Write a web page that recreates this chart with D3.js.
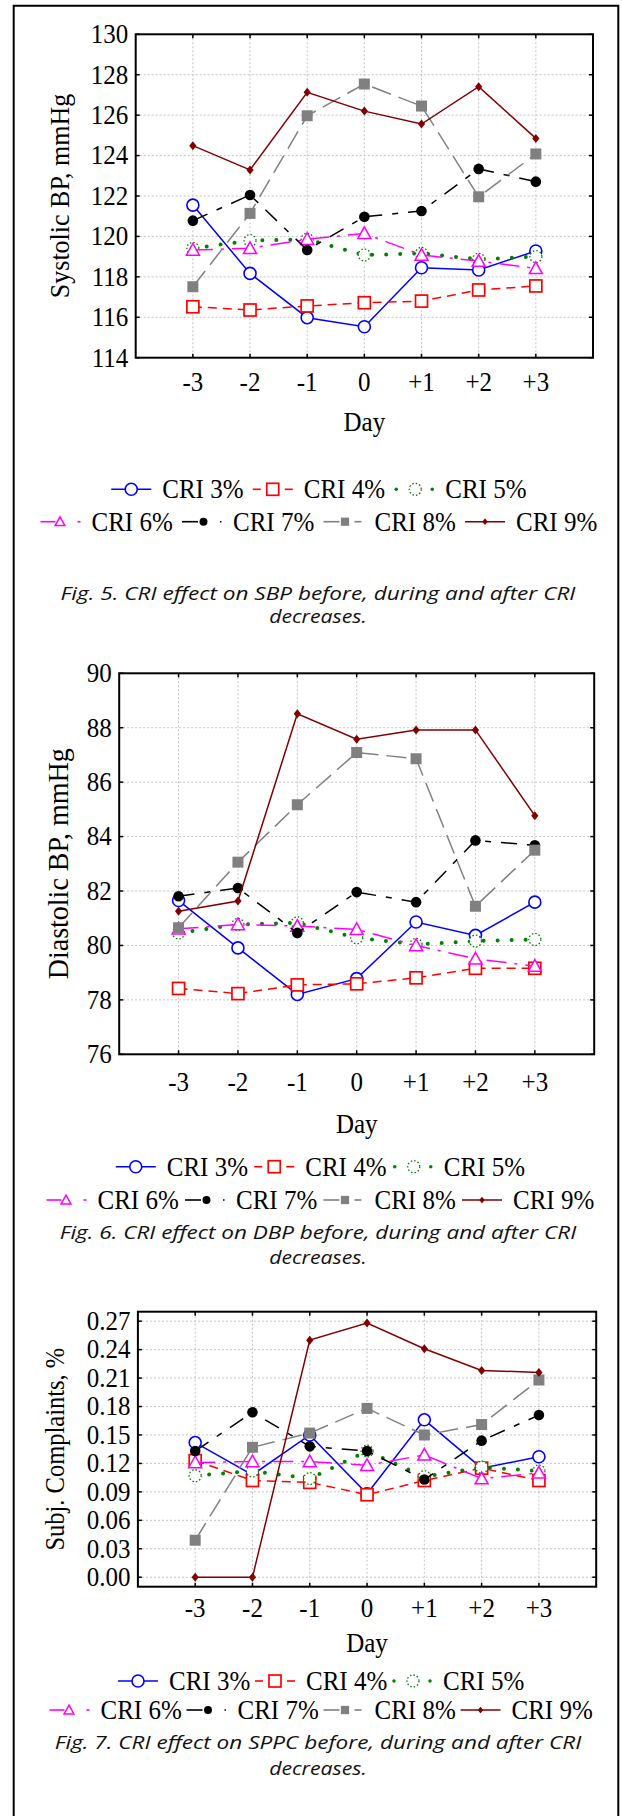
<!DOCTYPE html>
<html lang="en">
<head>
<meta charset="utf-8">
<title>CRI effect on SBP, DBP and SPPC</title>
<script src="https://d3js.org/d3.v7.min.js"></script>
<style>
body { margin: 0; background: #fff; }
svg { display: block; }
.grid line { stroke: #c4c4c4; stroke-dasharray: 2,2; stroke-width: 1; }
.frame { fill: none; stroke: #000; stroke-width: 2; }
</style>
</head>
<body>
<script>
// days around the CRI decrease
var days = [-3, -2, -1, 0, 1, 2, 3];
var dayLabels = ["-3", "-2", "-1", "0", "+1", "+2", "+3"];
var seriesNames = ["CRI 3%", "CRI 4%", "CRI 5%", "CRI 6%", "CRI 7%", "CRI 8%", "CRI 9%"];

// Fig. 5 - systolic BP, one row per series (CRI 3% .. CRI 9%)
var sbpValues = [
	[121.55, 118.17, 115.98, 115.53, 118.45, 118.34, 119.28],
	[116.52, 116.36, 116.56, 116.72, 116.80, 117.35, 117.55],
	[119.41, 119.79, 119.86, 119.08, 119.16, 118.87, 119.00],
	[119.33, 119.41, 119.86, 120.15, 119.08, 118.78, 118.42],
	[120.78, 122.05, 119.33, 120.97, 121.26, 123.34, 122.71],
	[117.51, 121.14, 125.97, 127.54, 126.45, 121.96, 124.08],
	[124.49, 123.29, 127.13, 126.20, 125.56, 127.41, 124.85]
];
var sbpTicks = [114, 116, 118, 120, 122, 124, 126, 128, 130];

// Fig. 6 - diastolic BP
var dbpValues = [
	[81.65, 79.91, 78.20, 78.78, 80.86, 80.37, 81.59],
	[78.42, 78.23, 78.55, 78.59, 78.81, 79.16, 79.16],
	[80.46, 80.77, 80.83, 80.28, 80.04, 80.16, 80.22],
	[80.61, 80.77, 80.71, 80.59, 80.00, 79.51, 79.24],
	[81.81, 82.11, 80.46, 81.96, 81.59, 83.86, 83.68],
	[80.65, 83.06, 85.17, 87.09, 86.86, 81.44, 83.50],
	[81.26, 81.63, 88.51, 87.58, 87.92, 87.92, 84.77]
];
var dbpTicks = [76, 78, 80, 82, 84, 86, 88, 90];

// Fig. 7 - subjective complaints
var sppcValues = [
	[0.142, 0.108, 0.150, 0.088, 0.166, 0.115, 0.127],
	[0.123, 0.102, 0.100, 0.087, 0.102, 0.115, 0.102],
	[0.107, 0.112, 0.104, 0.133, 0.106, 0.116, 0.112],
	[0.121, 0.122, 0.122, 0.118, 0.129, 0.104, 0.110],
	[0.133, 0.174, 0.138, 0.133, 0.103, 0.144, 0.171],
	[0.039, 0.137, 0.152, 0.178, 0.150, 0.161, 0.208],
	[0.000, 0.000, 0.250, 0.268, 0.241, 0.218, 0.216]
];
var sppcTicks = [0, 0.03, 0.06, 0.09, 0.12, 0.15, 0.18, 0.21, 0.24, 0.27];

// line / marker look of each series
var styles = [
	{color: "#0000ff", dash: null, width: 1.5, marker: "circle", seg: [[0, 40]], mx: 20},
	{color: "#ff0000", dash: "9,6", width: 1.5, marker: "square", seg: [[0, 8], [32, 40]], mx: 20},
	{color: "#008000", dash: "0,14", width: 4, cap: "round", marker: "dotcircle", seg: [[2, 2], [38, 38]], mx: 21},
	{color: "#ff00ff", dash: "20,8,3,8", width: 1.5, marker: "triangle", seg: [[0, 15], [37, 40]], mx: 19.5},
	{color: "#000000", dash: "16,10,6,10", width: 1.5, marker: "dot", seg: [[0, 16], [38, 39.5]], mx: 21.5},
	{color: "#808080", dash: "20,8", width: 1.5, marker: "fsquare", seg: [[0, 16], [31, 38]], mx: 21.5},
	{color: "#800000", dash: null, width: 1.5, marker: "diamond", seg: [[0, 40]], mx: 20}
];

var serif = "'Liberation Serif', 'Times New Roman', Times, serif";
var sans = "'Open Sans', 'Noto Sans', sans-serif";
var w = 622, h = 1816;

var svg = d3.select("body").append("svg")
	.attr("width", w)
	.attr("height", h);

// outer box (open at the bottom)
svg.append("path")
	.attr("d", "M13.7," + h + "V5.8H618.3V" + h)
	.attr("fill", "none")
	.attr("stroke", "#000")
	.attr("stroke-width", 2);

var charts = [
	{values: sbpValues, ticks: sbpTicks, fmt: d3.format("d"), domain: [114, 130],
	 title: "Systolic BP, mmHg", titleSize: 26, titleX: 59.6,
	 left: 135.7, right: 593, top: 34.3, bottom: 357.7,
	 xLabY: 381.7, dayY: 421.7, legY: [489.3, 521.7], legW: 141.5,
	 caption: ["Fig. 5. CRI effect on SBP before, during and after CRI", "decreases."],
	 capY: [592.7, 616], capW: [515, 97.7]},
	{values: dbpValues, ticks: dbpTicks, fmt: d3.format("d"), domain: [76, 90],
	 title: "Diastolic BP, mmHg", titleSize: 28, titleX: 57.6,
	 left: 119.2, right: 594.2, top: 673.3, bottom: 1054.3,
	 xLabY: 1081.7, dayY: 1124, legY: [1166.7, 1200], legW: 138.5,
	 caption: ["Fig. 6. CRI effect on DBP before, during and after CRI", "decreases."],
	 capY: [1231.7, 1256.7], capW: [516.7, 97.7]},
	{values: sppcValues, ticks: sppcTicks, fmt: d3.format(".2f"), domain: [-0.01, 0.28],
	 title: "Subj. Complaints, %", titleSize: 24.5, titleX: 55.6,
	 left: 137.9, right: 596.2, top: 1311.7, bottom: 1586.7,
	 xLabY: 1608.3, dayY: 1643.3, legY: [1681, 1710], legW: 137,
	 caption: ["Fig. 7. CRI effect on SPPC before, during and after CRI", "decreases."],
	 capY: [1741.7, 1768.3], capW: [526.7, 97.7]}
];

// serif text, a bit taller than wide like in the original
function serifText(parent, x, y, size, anchor, str, rot) {
	return parent.append("text")
		.attr("transform", "translate(" + x + "," + y + ")" + (rot ? " rotate(-90)" : "") + " scale(1,1.08)")
		.attr("text-anchor", anchor)
		.attr("dominant-baseline", "central")
		.style("font-family", serif)
		.style("font-size", size + "px")
		.style("fill", "#000")
		.text(str);
}

function drawMarker(g, type, cx, cy, color, k) {
	k = k || 1;
	if (type == "circle") {
		g.append("circle").attr("cx", cx).attr("cy", cy).attr("r", 6 * k)
			.attr("fill", "#fff").attr("stroke", color).attr("stroke-width", 1.6);
	} else if (type == "dotcircle") {
		g.append("circle").attr("cx", cx).attr("cy", cy).attr("r", 6 * k)
			.attr("fill", "#fff").attr("stroke", color).attr("stroke-width", 1.3)
			.attr("stroke-dasharray", "1.5,2");
	} else if (type == "square" || type == "fsquare") {
		var s = (type == "square" ? 12 : 11) * k;
		g.append("rect").attr("x", cx - s / 2).attr("y", cy - s / 2)
			.attr("width", s).attr("height", s)
			.attr("fill", type == "square" ? "#fff" : color)
			.attr("stroke", color).attr("stroke-width", type == "square" ? 1.7 : 0);
	} else if (type == "triangle") {
		var a = 6.5 * k;
		g.append("path")
			.attr("d", "M" + cx + "," + (cy - a) + "L" + (cx + a) + "," + (cy + a * 0.8) + "L" + (cx - a) + "," + (cy + a * 0.8) + "Z")
			.attr("fill", "#fff").attr("stroke", color).attr("stroke-width", 1.5);
	} else if (type == "dot") {
		g.append("circle").attr("cx", cx).attr("cy", cy).attr("r", 5.3 * k).attr("fill", color);
	} else if (type == "diamond") {
		g.append("path")
			.attr("d", "M" + cx + "," + (cy - 4.5 * k) + "L" + (cx + 3.6 * k) + "," + cy + "L" + cx + "," + (cy + 4.5 * k) + "L" + (cx - 3.6 * k) + "," + cy + "Z")
			.attr("fill", color);
	}
}

charts.forEach(function(c) {
	var g = svg.append("g");

	var x = d3.scaleLinear().domain([-4, 4]).range([c.left, c.right]);
	var y = d3.scaleLinear().domain(c.domain).range([c.bottom, c.top]);

	// grid
	var grid = g.append("g").attr("class", "grid");
	grid.selectAll("line.v").data(days).enter().append("line")
		.attr("x1", function(d) { return x(d); })
		.attr("x2", function(d) { return x(d); })
		.attr("y1", c.top).attr("y2", c.bottom);
	grid.selectAll("line.h").data(c.ticks).enter().append("line")
		.attr("y1", function(d) { return y(d); })
		.attr("y2", function(d) { return y(d); })
		.attr("x1", c.left).attr("x2", c.right);

	// inner tick marks
	var tk = g.append("g").attr("stroke", "#000").attr("stroke-width", 1.5);
	c.ticks.forEach(function(t) {
		tk.append("line").attr("x1", c.left).attr("x2", c.left + 4).attr("y1", y(t)).attr("y2", y(t));
		tk.append("line").attr("x1", c.right).attr("x2", c.right - 4).attr("y1", y(t)).attr("y2", y(t));
	});
	days.forEach(function(d) {
		tk.append("line").attr("y1", c.top).attr("y2", c.top + 4).attr("x1", x(d)).attr("x2", x(d));
		tk.append("line").attr("y1", c.bottom).attr("y2", c.bottom - 4).attr("x1", x(d)).attr("x2", x(d));
	});

	// series
	var line = d3.line()
		.x(function(d, i) { return x(days[i]); })
		.y(function(d) { return y(d); });

	c.values.forEach(function(vals, si) {
		var st = styles[si];
		var sg = g.append("g");
		sg.append("path")
			.datum(vals)
			.attr("d", line)
			.attr("fill", "none")
			.attr("stroke", st.color)
			.attr("stroke-width", st.width)
			.attr("stroke-linecap", st.cap || "butt")
			.attr("stroke-dasharray", st.dash);
		vals.forEach(function(v, i) {
			drawMarker(sg, st.marker, x(days[i]), y(v), st.color);
		});
	});

	// frame
	g.append("rect").attr("class", "frame")
		.attr("x", c.left).attr("y", c.top)
		.attr("width", c.right - c.left).attr("height", c.bottom - c.top);

	// tick labels
	c.ticks.forEach(function(t) {
		serifText(g, c.left - 7.5, y(t), 25, "end", c.fmt(t));
	});
	days.forEach(function(d, i) {
		serifText(g, x(d), c.xLabY, 25, "middle", dayLabels[i]);
	});

	// axis titles
	serifText(g, (c.left + c.right) / 2, c.dayY, 25, "middle", "Day");
	serifText(g, c.titleX, (c.top + c.bottom) / 2, c.titleSize, "middle", c.title, true);

	// legend, 3 items then 4 items, centred
	var rows = [[0, 1, 2], [3, 4, 5, 6]];
	var legend = g.append("g").attr("class", "legend");
	rows.forEach(function(row, ri) {
		var x0 = 320 - (row.length * c.legW - 7) / 2;
		row.forEach(function(si, j) {
			var st = styles[si];
			var it = legend.append("g")
				.attr("transform", "translate(" + (x0 + j * c.legW) + "," + c.legY[ri] + ")");
			st.seg.forEach(function(s) {
				it.append("line")
					.attr("x1", s[0]).attr("x2", s[1])
					.attr("y1", 0).attr("y2", 0)
					.attr("stroke", st.color)
					.attr("stroke-width", st.marker == "dotcircle" ? 3.5 : 1.6)
					.attr("stroke-linecap", st.marker == "dotcircle" ? "round" : "butt");
			});
			drawMarker(it, st.marker, st.mx, 0, st.color, st.marker == "circle" || st.marker == "square" || st.marker == "dotcircle" ? 1 : 0.75);
			serifText(it, 51, 0, 25, "start", seriesNames[si]);
		});
	});

	// caption
	c.caption.forEach(function(t, i) {
		g.append("text")
			.attr("x", 318)
			.attr("y", c.capY[i])
			.attr("text-anchor", "middle")
			.attr("dominant-baseline", "central")
			.attr("textLength", c.capW[i])
			.attr("lengthAdjust", "spacingAndGlyphs")
			.style("font-family", sans)
			.style("font-style", "italic")
			.style("font-size", "19px")
			.style("fill", "#111")
			.text(t);
	});
});
</script>
</body>
</html>
